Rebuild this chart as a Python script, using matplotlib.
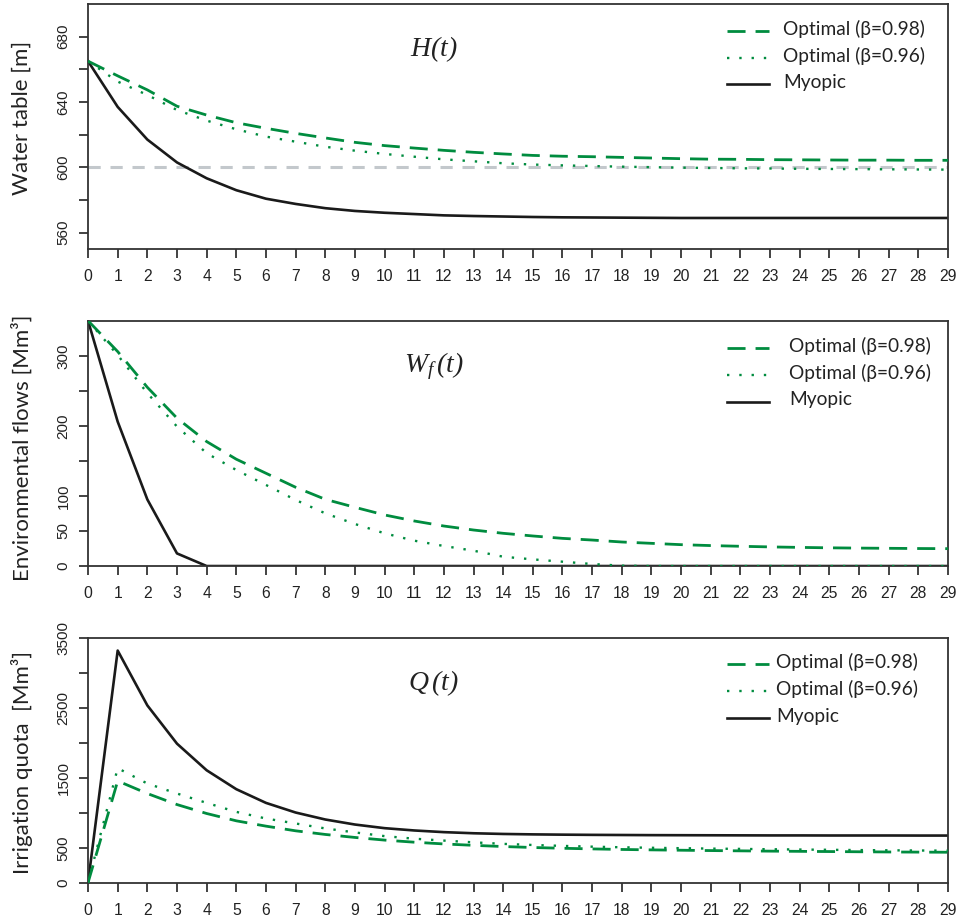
import matplotlib
matplotlib.use("Agg")
import matplotlib.pyplot as plt
import numpy as np

plt.rcParams['mathtext.fontset'] = 'custom'
plt.rcParams['mathtext.it'] = 'Liberation Serif:italic'
plt.rcParams['mathtext.rm'] = 'Liberation Serif:italic'

t = np.arange(30)

# water table H(t) [m]
H_opt98 = [665, 656, 647.4, 637.4, 632, 627.3, 623.9, 620.8, 618, 615.3, 613.3, 611.8, 610.4, 609.2, 608.2,
           607.3, 606.8, 606.5, 606.1, 605.7, 605.3, 605.0, 604.9, 604.7, 604.6, 604.5, 604.4, 604.4, 604.3, 604.3]
H_opt96 = [665, 652.5, 644.3, 635.1, 628.6, 623.3, 618.8, 615.7, 612.6, 610.2, 608.2, 606.5, 604.9, 603.7, 602.5,
           601.7, 601.2, 600.8, 600.4, 600.1, 599.8, 599.6, 599.4, 599.3, 599.1, 599.0, 598.9, 598.8, 598.7, 598.6]
H_myopic = [665, 637, 617, 603, 593.3, 586, 580.8, 577.6, 575, 573.3, 572.2, 571.4, 570.6, 570.2, 569.9,
            569.6, 569.4, 569.3, 569.2, 569.1, 569, 569, 569, 569, 569, 569, 569, 569, 569, 569]
H_limit = 600

# environmental flows Wf(t) [Mm3]
W_opt98 = [350, 306, 255, 211, 177.6, 152.4, 132.4, 112.4, 95.2, 83.8, 72.9, 64.3, 57.1, 51.4, 46.7,
           42.9, 39.5, 37.1, 34.3, 32.4, 30.5, 29.2, 28.2, 27.3, 26.6, 26.0, 25.6, 25.3, 25.0, 24.8]
W_opt96 = [350, 301, 246.7, 199, 161, 137, 115.7, 94.3, 75.2, 60, 46.7, 36.2, 28.6, 21.9, 13.3,
           9.5, 6.2, 2.9, 0.5, 0, 0, 0, 0, 0, 0, 0, 0, 0, 0, 0]
W_myopic = [350, 206, 95, 18, 0, 0, 0, 0, 0, 0, 0, 0, 0, 0, 0,
            0, 0, 0, 0, 0, 0, 0, 0, 0, 0, 0, 0, 0, 0, 0]

# irrigation quota Q(t) [Mm3]
Q_opt98 = [0, 1457, 1277, 1119, 991, 886, 810, 743, 691, 648, 610, 580, 555, 535, 518,
           504, 493, 484, 476, 470, 465, 460, 456, 452, 449, 446, 443, 440, 438, 436]
Q_opt96 = [0, 1640, 1420, 1277, 1143, 1014, 919, 848, 777, 720, 667, 630, 603, 578, 556,
           540, 527, 516, 507, 500, 494, 488, 484, 479, 475, 471, 467, 464, 461, 459]
Q_myopic = [0, 3324, 2539, 1991, 1610, 1339, 1143, 1005, 905, 833, 781, 748, 724, 708, 698,
            692, 688, 685, 683, 681, 680, 679, 678, 677, 677, 676, 676, 676, 675, 675]

legend_labels = ['Optimal (β=0.98)', 'Optimal (β=0.96)', 'Myopic']
green = '#008c3f'
black = '#1a1a1a'
dash98 = (6.5, 3.6)
dot96 = (1, 4.2)

panels = [
    dict(rect=[0.0917, 0.7305, 0.8958, 0.2652], series=(H_opt98, H_opt96, H_myopic), ylim=(550, 700),
         yticks=[560, 580, 600, 620, 640, 660, 680], ylabels=['560', '', '600', '', '640', '', '680'],
         title=r'$H(t)$', ylabel='Water table [m]', leg_text_x=783, leg_rows=(30.7, 57.7, 84.3)),
    dict(rect=[0.0917, 0.3874, 0.8958, 0.2655], series=(W_opt98, W_opt96, W_myopic), ylim=(0, 350),
         yticks=[0, 50, 100, 150, 200, 250, 300], ylabels=['0', '50', '100', '', '200', '', '300'],
         title=r'$W_{f}\,(t)$', ylabel='Environmental flows [Mm³]', leg_text_x=789,
         leg_rows=(347.7, 374.7, 401.7)),
    dict(rect=[0.0917, 0.0447, 0.8958, 0.2645], series=(Q_opt98, Q_opt96, Q_myopic), ylim=(0, 3500),
         yticks=[0, 500, 1000, 1500, 2000, 2500, 3000, 3500],
         ylabels=['0', '500', '', '1500', '', '2500', '', '3500'],
         title=r'$Q\,(t)$', ylabel='Irrigation quota  [Mm³]', leg_text_x=776, leg_rows=(664.3, 691, 718.3)),
]
label_y = [118, 448, 763]

W, Hpx = 960, 924
fig = plt.figure(figsize=(9.6, 9.24), dpi=100)

for i, p in enumerate(panels):
    ax = fig.add_axes(p['rect'])
    s98, s96, smy = p['series']
    if i == 0:
        ax.plot([0, 29], [H_limit, H_limit], color='#c3c8cc', lw=2.2, dashes=(4, 3.2), zorder=1)
    ax.plot(t, s98, color=green, lw=2.0, dashes=dash98, zorder=3)
    ax.plot(t, s96, color=green, lw=1.7, dashes=dot96, zorder=3)
    ax.plot(t, smy, color=black, lw=1.9, zorder=2)

    ax.set_xlim(0, 29)
    ax.set_ylim(*p['ylim'])
    ax.set_xticks(t)
    ax.set_xticklabels([str(v) for v in t], fontsize=11.3, family='Liberation Sans', color='#222222')
    ax.set_yticks(p['yticks'])
    ax.set_yticklabels(p['ylabels'], fontsize=11, family='Liberation Sans', rotation=90,
                       va='center', color='#222222')
    ax.tick_params(axis='x', direction='out', length=6.5, width=1.2, pad=8, color='#222222')
    ax.tick_params(axis='y', direction='out', length=6.5, width=1.2, pad=6, color='#222222')
    for sp in ax.spines.values():
        sp.set_linewidth(1.3)
        sp.set_color('#333333')

    ax.text(0.402, 0.815, p['title'], transform=ax.transAxes, fontsize=20, ha='center', va='center',
            color='#222222')

    fig.text(22 / W, 1 - label_y[i] / Hpx, p['ylabel'], rotation=90, ha='center', va='center',
             fontsize=16, family='Lato', color='#222222')

    # legend drawn as short line samples + text
    styles = [dict(color=green, lw=2.0, dashes=dash98),
              dict(color=green, lw=1.7, dashes=dot96),
              dict(color=black, lw=1.9)]
    for lab, ry, st in zip(legend_labels, p['leg_rows'], styles):
        yy = 1 - ry / Hpx
        fig.add_artist(plt.Line2D([727 / W, 769 / W], [yy, yy], transform=fig.transFigure, **st))
        fig.text(p['leg_text_x'] / W, yy + 2 / Hpx, lab, ha='left', va='center', fontsize=13.8,
                 family='Lato', color='#222222')

fig.savefig('out.png', dpi=100)
